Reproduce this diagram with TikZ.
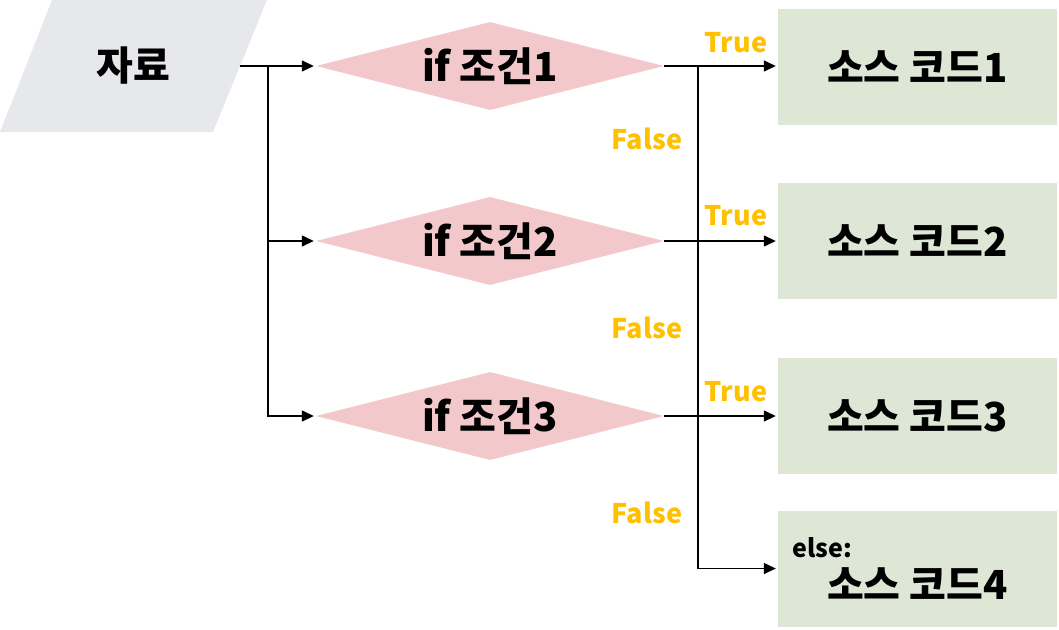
\documentclass[tikz,border=0pt]{standalone}
\usepackage{fontspec}
\setmainfont{Noto Sans CJK KR}
\usepackage{xcolor}
\usepackage{tikz}
\usetikzlibrary{positioning,shapes.geometric,arrows.meta}
\definecolor{datagray}{HTML}{E7E8EC}
\definecolor{condpink}{HTML}{F2C8CA}
\definecolor{codegreen}{HTML}{DEE6D6}
\definecolor{tfgold}{HTML}{FFC000}

\begin{document}
\begin{tikzpicture}[
  x=1pt, y=-1pt,
  big/.style={font=\bfseries\fontsize{40}{44}\selectfont},
  cond/.style={big, diamond, fill=condpink, aspect=3.95, inner sep=0pt,
               minimum width=348pt, minimum height=88pt},
  code/.style={big, fill=codegreen, minimum width=279pt, minimum height=116pt,
               inner sep=0pt},
  tf/.style={font=\bfseries\fontsize{27}{30}\selectfont, text=tfgold, inner sep=0pt},
  link/.style={line width=1.4pt},
  arr/.style={link, -{Triangle[length=12pt,width=11pt]}, shorten >=2pt},
]
\useasboundingbox (0,0) rectangle (1059,629);
% input
\fill[datagray] (52,0) -- (267,0) -- (213,132) -- (0,132) -- cycle;
\node[big] (data) at (133,66) {자료};
\coordinate (dataout) at (240,66);
\coordinate (fork) at (268,66);
% conditions
\node[cond] (cond1) at (490,66) {if 조건1};
\node[cond] (cond2) at (490,241) {if 조건2};
\node[cond] (cond3) at (490,416) {if 조건3};
% code blocks
\node[code] (code1) at (917.5,66.5) {소스 코드1};
\node[code] (code2) at (917.5,241) {소스 코드2};
\node[code] (code3) at (917.5,416) {소스 코드3};
\node[code] (code4) at (917.5,568.5) {};
\node[big] (code4txt) at (917.5,584) {소스 코드4};
\node[font=\bfseries\fontsize{25}{28}\selectfont, anchor=west, inner sep=0pt]
  (else) at (792,548) {else:};
\coordinate (join) at (698,66);
% connectors
\draw[arr] (dataout) -- (cond1.west);
\draw[arr] (fork) |- (cond3.west);
\draw[arr] (fork |- cond2.west) -- (cond2.west);
\draw[arr] (cond1.east) -- (code1.west |- cond1.east);
\draw[arr] (cond2.east) -- (code2.west);
\draw[arr] (cond3.east) -- (code3.west);
\draw[arr] (join) |- (code4.west);
% branch labels
\node[tf] (true1) at (736,43) {True};
\node[tf] (true2) at (736,216) {True};
\node[tf] (true3) at (736,392) {True};
\node[tf] (false1) at (647,139) {False};
\node[tf] (false2) at (647,328) {False};
\node[tf] (false3) at (647,513) {False};
\end{tikzpicture}
\end{document}
